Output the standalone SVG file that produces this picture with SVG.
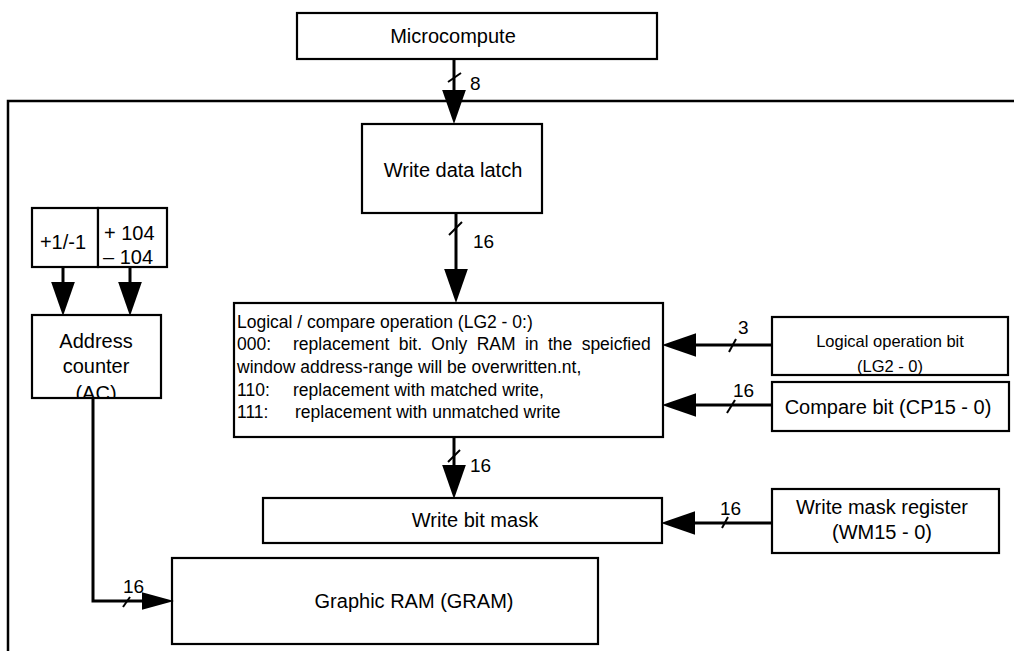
<svg xmlns="http://www.w3.org/2000/svg" width="1014" height="651" viewBox="0 0 1014 651">
<style>
text{font-family:"Liberation Sans",Arial,Helvetica,sans-serif;fill:#000}
.box{fill:#fff;stroke:#000;stroke-width:2.2}
.t20{font-size:20px}
.t17{font-size:17.5px}
.t16{font-size:16.5px}
.lab{font-size:19px}
.con{fill:none;stroke:#000;stroke-width:3}
.sl{stroke:#000;stroke-width:2}
.frame{fill:none;stroke:#000;stroke-width:2.5}
</style>
<defs>
<marker id="arr" markerUnits="userSpaceOnUse" markerWidth="34" markerHeight="24" viewBox="0 0 33 23" refX="0" refY="11.5" orient="auto"><path d="M0,0 L33,11.5 L0,23 z" fill="#000"/></marker>
<marker id="arrS" markerUnits="userSpaceOnUse" markerWidth="32" markerHeight="18" viewBox="0 0 31 17" refX="0" refY="8.5" orient="auto"><path d="M0,0 L31,8.5 L0,17 z" fill="#000"/></marker>
<clipPath id="clipAC"><rect x="32" y="315" width="129" height="82"/></clipPath>
<clipPath id="clipLG"><rect x="772" y="317" width="236" height="57"/></clipPath>
</defs>
<path class="frame" d="M8,651 V101 H1014"/>
<g id="microcompute"><rect class="box" x="297" y="13" width="360" height="46"/><text class="t20" x="453" y="43" text-anchor="middle">Microcompute</text></g>
<g id="write-data-latch"><rect class="box" x="362" y="124" width="180" height="89"/><text class="t20" x="453" y="177" text-anchor="middle">Write data latch</text></g>
<g id="inc"><rect class="box" x="32" y="208" width="66" height="59"/><text class="t20" x="63" y="249" text-anchor="middle">+1/-1</text></g>
<g id="inc104"><rect class="box" x="98" y="208" width="69" height="59"/><text class="t20" x="104" y="240">+ 104</text><text class="t20" x="103" y="264">– 104</text></g>
<g id="address-counter"><rect class="box" x="32" y="315" width="129" height="83"/><g clip-path="url(#clipAC)"><text class="t20" x="96" y="348" text-anchor="middle">Address</text><text class="t20" x="96" y="373" text-anchor="middle">counter</text><text class="t20" x="96" y="400" text-anchor="middle">(AC)</text></g></g>
<g id="logic-op"><rect class="box" x="234" y="303" width="429" height="134"/>
<text class="t17" x="237" y="328">Logical / compare operation (LG2 - 0:)</text>
<text class="t17" x="237" y="350">000:</text><text class="t17" x="293" y="350" word-spacing="4.5">replacement bit. Only RAM in the speicfied</text>
<text class="t17" x="237" y="373">window address-range will be overwritten.nt,</text>
<text class="t17" x="237" y="396">110:</text><text class="t17" x="293" y="396">replacement with matched write,</text>
<text class="t17" x="237" y="418">111:</text><text class="t17" x="295" y="418">replacement with unmatched write</text></g>
<g id="logical-operation-bit"><rect class="box" x="772" y="317" width="236" height="58"/><g clip-path="url(#clipLG)"><text class="t16" x="890" y="347" text-anchor="middle">Logical operation bit</text><text class="t16" x="890" y="372" text-anchor="middle">(LG2 - 0)</text></g></g>
<g id="compare-bit"><rect class="box" x="772" y="382" width="237" height="49"/><text class="t20" x="888" y="414" text-anchor="middle">Compare bit (CP15 - 0)</text></g>
<g id="write-bit-mask"><rect class="box" x="263" y="498" width="399" height="45"/><text class="t20" x="475" y="527" text-anchor="middle">Write bit mask</text></g>
<g id="write-mask-register"><rect class="box" x="772" y="489" width="227" height="64"/><text class="t20" x="882" y="514" text-anchor="middle">Write mask register</text><text class="t20" x="882" y="539" text-anchor="middle">(WM15 - 0)</text></g>
<g id="gram"><rect class="box" x="172" y="558" width="426" height="86"/><text class="t20" x="414" y="608" text-anchor="middle">Graphic RAM (GRAM)</text></g>
<g id="connectors">
<path class="con" d="M454,59 V90" marker-end="url(#arr)"/>
<path class="con" d="M456,213 V269" marker-end="url(#arr)"/>
<path class="con" d="M454,437 V465" marker-end="url(#arr)"/>
<path class="con" d="M772,345 H696" marker-end="url(#arr)"/>
<path class="con" d="M772,405 H696" marker-end="url(#arr)"/>
<path class="con" d="M772,523 H695" marker-end="url(#arr)"/>
<path class="con" d="M63,267 V282" marker-end="url(#arr)"/>
<path class="con" d="M130,267 V282" marker-end="url(#arr)"/>
<path class="con" d="M93,398 V601 H142" marker-end="url(#arrS)"/>
<line class="sl" x1="448" y1="82" x2="461" y2="73"/>
<line class="sl" x1="449" y1="235" x2="462" y2="222"/>
<line class="sl" x1="448" y1="462" x2="460" y2="450"/>
<line class="sl" x1="729" y1="352" x2="736" y2="339"/>
<line class="sl" x1="727" y1="413" x2="735" y2="400"/>
<line class="sl" x1="722" y1="528" x2="728" y2="517"/>
<line class="sl" x1="123" y1="607" x2="130" y2="597"/>
<text class="lab" x="470" y="90">8</text>
<text class="lab" x="473" y="248">16</text>
<text class="lab" x="470" y="472">16</text>
<text class="lab" x="738" y="334">3</text>
<text class="lab" x="733" y="397">16</text>
<text class="lab" x="720" y="515">16</text>
<text class="lab" x="123" y="593">16</text>
</g>
</svg>
